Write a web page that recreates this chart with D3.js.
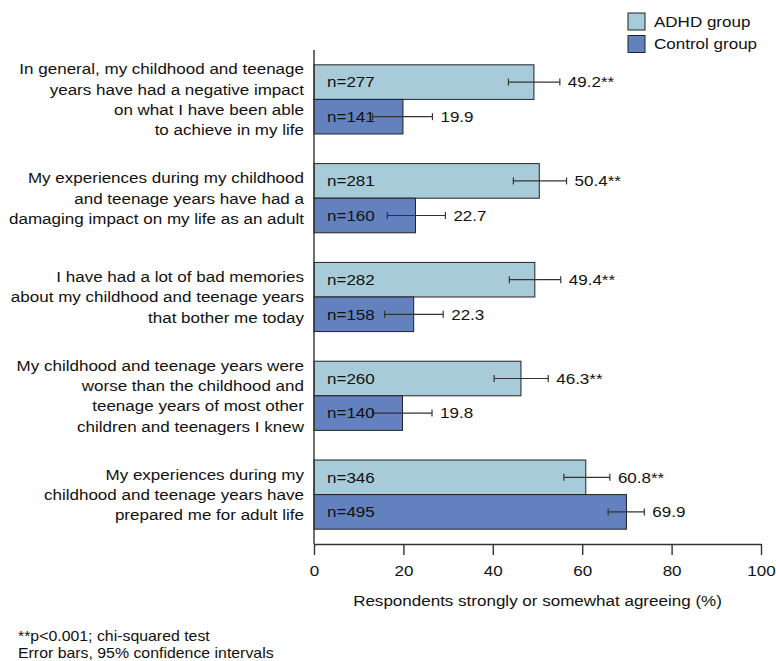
<!DOCTYPE html>
<html>
<head>
<meta charset="utf-8">
<script src="https://cdn.jsdelivr.net/npm/d3@7"></script>
<style>
  body { margin: 0; background: #fff; }
  text { font-family: "Liberation Sans", Arial, sans-serif; fill: #111; }
</style>
</head>
<body>
<div id="chart"></div>
<script>
// statements, split into the lines used in the figure
const statements = [
    ["In general, my childhood and teenage", "years have had a negative impact", "on what I have been able", "to achieve in my life"],
    ["My experiences during my childhood", "and teenage years have had a", "damaging impact on my life as an adult"],
    ["I have had a lot of bad memories", "about my childhood and teenage years", "that bother me today"],
    ["My childhood and teenage years were", "worse than the childhood and", "teenage years of most other", "children and teenagers I knew"],
    ["My experiences during my", "childhood and teenage years have", "prepared me for adult life"]
];
const groups = ["ADHD group", "Control group"];

const adhdPct = [49.2, 50.4, 49.4, 46.3, 60.8];
const adhdN = [277, 281, 282, 260, 346];
const adhdLo = [43.5, 44.6, 43.7, 40.3, 55.9];
const adhdHi = [55.0, 56.5, 55.2, 52.4, 66.2];
const adhdSig = ["**", "**", "**", "**", "**"];

const controlPct = [19.9, 22.7, 22.3, 19.8, 69.9];
const controlN = [141, 160, 158, 140, 495];
const controlLo = [13.1, 16.4, 15.8, 13.1, 65.8];
const controlHi = [26.5, 29.4, 28.9, 26.4, 73.9];
const controlSig = ["", "", "", "", ""];

const xTicks = [0, 20, 40, 60, 80, 100];
const xTitle = "Respondents strongly or somewhat agreeing (%)";
const notes = ["**p<0.001; chi-squared test", "Error bars, 95% confidence intervals"];

const width = 776,
    height = 661,
    margin = ({top: 50, right: 15, bottom: 117, left: 314});

const colors = {"ADHD group": "#a7cbd8", "Control group": "#6281be"};
const S = 1.15; // the figure's lettering is a little wider than Arial
const fs = 14.8;

// stretch text horizontally around its own anchor point
function stretch(sel) {
    sel.attr("transform", function() {
        const x = +this.getAttribute("x") || 0, y = +this.getAttribute("y") || 0;
        return `translate(${x},${y}) scale(${S},1) translate(${-x},${-y})`;
    });
}

let rows = statements.map((s, i) => ({
    key: i,
    lines: s,
    bars: [
        {group: groups[0], pct: adhdPct[i], n: adhdN[i], lo: adhdLo[i], hi: adhdHi[i], sig: adhdSig[i]},
        {group: groups[1], pct: controlPct[i], n: controlN[i], lo: controlLo[i], hi: controlHi[i], sig: controlSig[i]}
    ]
}));

let svg = d3.select("#chart").append("svg")
    .attr("width", width).attr("height", height)
    .attr("viewBox", [0, 0, width, height]);

let x = d3.scaleLinear()
    .domain([0, 100])
    .range([margin.left, 761]);

let y = d3.scaleBand()
    .domain(rows.map(d => d.key))
    .range([margin.top, height - margin.bottom])
    .paddingInner(0.3)
    .paddingOuter(0.15);

let ySub = d3.scaleBand()
    .domain(groups)
    .range([0, y.bandwidth()]);

// bars
let row = svg.selectAll(".row")
    .data(rows)
    .join("g")
    .attr("class", "row")
    .attr("transform", d => `translate(0,${y(d.key)})`);

let bar = row.selectAll(".bar")
    .data(d => d.bars)
    .join("g")
    .attr("class", "bar");

bar.append("rect")
    .attr("x", x(0))
    .attr("y", d => ySub(d.group))
    .attr("width", d => x(d.pct) - x(0))
    .attr("height", ySub.bandwidth())
    .attr("fill", d => colors[d.group])
    .attr("stroke", "#222")
    .attr("stroke-width", 1);

// error bars
const cap = 3.5;
bar.append("line")
    .attr("x1", d => x(d.lo)).attr("x2", d => x(d.hi))
    .attr("y1", d => ySub(d.group) + ySub.bandwidth() / 2)
    .attr("y2", d => ySub(d.group) + ySub.bandwidth() / 2)
    .attr("stroke", "#333").attr("stroke-width", 1.2);
bar.selectAll(".cap")
    .data(d => [d.lo, d.hi].map(v => ({v: v, group: d.group})))
    .join("line")
    .attr("class", "cap")
    .attr("x1", d => x(d.v)).attr("x2", d => x(d.v))
    .attr("y1", d => ySub(d.group) + ySub.bandwidth() / 2 - cap)
    .attr("y2", d => ySub(d.group) + ySub.bandwidth() / 2 + cap)
    .attr("stroke", "#333").attr("stroke-width", 1.2);

// n= labels inside the bars
bar.append("text")
    .attr("x", x(0) + 13)
    .attr("y", d => ySub(d.group) + ySub.bandwidth() / 2)
    .attr("dy", "0.36em")
    .attr("font-size", fs)
    .text(d => `n=${d.n}`)
    .call(stretch);

// value labels after the error bars
bar.append("text")
    .attr("x", d => x(d.hi) + 8)
    .attr("y", d => ySub(d.group) + ySub.bandwidth() / 2)
    .attr("dy", "0.36em")
    .attr("font-size", fs)
    .text(d => d.pct.toFixed(1) + d.sig)
    .call(stretch);

// statement labels, one text per line
const lh = 20.3;
row.selectAll(".label")
    .data(d => d.lines.map((l, i) => ({l: l, i: i, n: d.lines.length})))
    .join("text")
    .attr("class", "label")
    .attr("x", 304)
    .attr("y", d => y.bandwidth() / 2 + (d.i - (d.n - 1) / 2) * lh)
    .attr("dy", "0.36em")
    .attr("text-anchor", "end")
    .attr("font-size", fs)
    .text(d => d.l)
    .call(stretch);

// axes
const xAxis = g => g
    .attr("transform", `translate(0,${height - margin.bottom})`)
    .call(d3.axisBottom(x).tickValues(xTicks).tickSize(11).tickSizeOuter(0).tickPadding(11))
    .call(g => g.select(".domain").attr("stroke", "#333").attr("stroke-width", 1.4))
    .call(g => g.selectAll(".tick line").attr("stroke", "#333").attr("stroke-width", 1.4))
    .call(g => g.selectAll(".tick text")
        .attr("font-size", fs)
        .attr("font-family", "Liberation Sans, Arial, sans-serif")
        .attr("fill", "#111")
        .call(stretch));

svg.append("g").call(xAxis);

svg.append("line")
    .attr("x1", x(0)).attr("x2", x(0))
    .attr("y1", margin.top).attr("y2", height - margin.bottom)
    .attr("stroke", "#333").attr("stroke-width", 1.4);

svg.append("text")
    .attr("x", (x(0) + x(100)) / 2)
    .attr("y", 606)
    .attr("text-anchor", "middle")
    .attr("font-size", fs)
    .text(xTitle)
    .call(stretch);

// legend
let legend = svg.selectAll(".legend")
    .data(groups)
    .join("g")
    .attr("class", "legend")
    .attr("transform", (d, i) => `translate(628,${13 + i * 22.5})`);
legend.append("rect")
    .attr("width", 17).attr("height", 17)
    .attr("fill", d => colors[d])
    .attr("stroke", "#222");
legend.append("text")
    .attr("x", 26).attr("y", 8.5)
    .attr("dy", "0.36em")
    .attr("font-size", fs)
    .text(d => d)
    .call(stretch);

// notes
svg.selectAll(".note")
    .data(notes)
    .join("text")
    .attr("class", "note")
    .attr("x", 18)
    .attr("y", (d, i) => 641 + i * 17.5)
    .attr("font-size", 13.8)
    .text(d => d)
    .call(stretch);
</script>
</body>
</html>
